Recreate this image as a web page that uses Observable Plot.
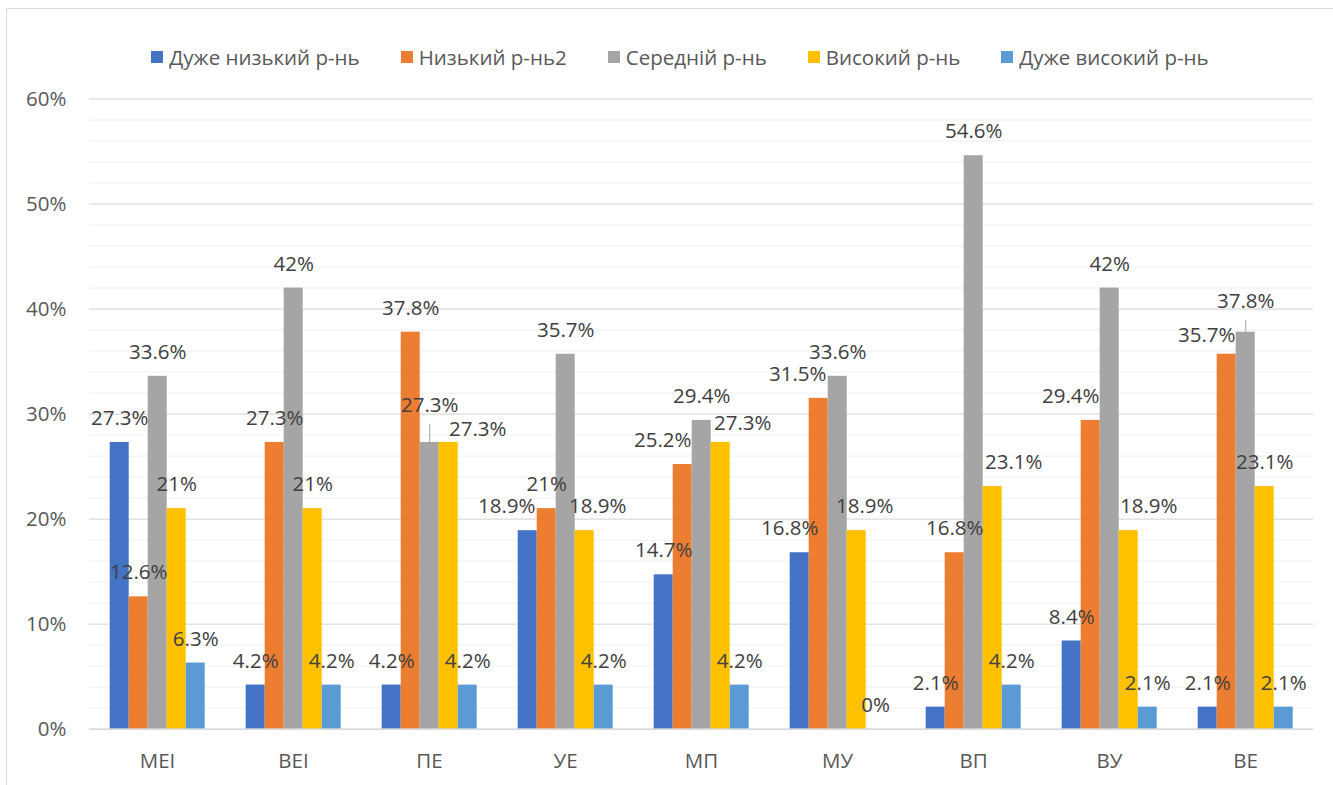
<!DOCTYPE html>
<html lang="uk">
<head>
<meta charset="utf-8">
<title>Рівні за показниками</title>
<script src="https://cdn.jsdelivr.net/npm/d3@7"></script>
<script src="https://cdn.jsdelivr.net/npm/@observablehq/plot@0.6"></script>
<style>
  html, body { margin: 0; padding: 0; background: #fff; overflow: hidden; }
  body { width: 1333px; height: 785px; position: relative; font-family: "Open Sans", sans-serif; }
  #frame {
    position: absolute; left: 6px; top: 8px; width: 1400px; height: 900px;
    border: 1px solid #d9d9d9; box-sizing: border-box; pointer-events: none;
  }
  #chart { position: absolute; left: 0; top: 0; width: 1333px; }
  #legend {
    width: 1360px; height: 80px; box-sizing: border-box; padding-top: 33px;
    display: flex; justify-content: center; gap: 41px;
    font-size: 20.5px; line-height: 28px; color: #595959;
  }
  .item { display: flex; align-items: center; white-space: nowrap; }
  .swatch { width: 12px; height: 12px; margin-right: 6px; flex: none; }
  svg { display: block; }
</style>
</head>
<body>
<div id="frame"></div>
<div id="chart">
  <div id="legend"></div>
</div>
<script>
// Groups along the horizontal axis
const categories = ["МЕІ", "ВЕІ", "ПЕ", "УЕ", "МП", "МУ", "ВП", "ВУ", "ВЕ"];
// Level series, in legend order
const series = ["Дуже низький р-нь", "Низький р-нь2", "Середній р-нь", "Високий р-нь", "Дуже високий р-нь"];
const seriesColors = ["#4472C4", "#ED7D31", "#A5A5A5", "#FFC000", "#5B9BD5"];

// Shares per group, in percent
const veryLow  = [27.3, 4.2, 4.2, 18.9, 14.7, 16.8, 2.1, 8.4, 2.1];
const low      = [12.6, 27.3, 37.8, 21, 25.2, 31.5, 16.8, 29.4, 35.7];
const medium   = [33.6, 42, 27.3, 35.7, 29.4, 33.6, 54.6, 42, 37.8];
const high     = [21, 21, 27.3, 18.9, 27.3, 18.9, 23.1, 18.9, 23.1];
const veryHigh = [6.3, 4.2, 4.2, 4.2, 4.2, 0, 4.2, 2.1, 2.1];

// Axis ticks
const yTicks = [0, 10, 20, 30, 40, 50, 60];
const yMinorTicks = d3.range(0, 61, 2);

// Value labels that are shifted aside so they don't collide (pixels),
// with an optional leader line (length in percent units)
const labelNudges = [
  { group: "ПЕ", s: 2, dx: 0,   dy: -13, leader: 1.7 },
  { group: "ПЕ", s: 3, dx: 29,  dy: 11 },
  { group: "УЕ", s: 0, dx: -21, dy: 0 },
  { group: "УЕ", s: 3, dx: 13,  dy: 0 },
  { group: "МП", s: 1, dx: -20, dy: 0 },
  { group: "МП", s: 3, dx: 22,  dy: 5 },
  { group: "МУ", s: 0, dx: -10, dy: 0 },
  { group: "МУ", s: 1, dx: -21, dy: 0 },
  { group: "МУ", s: 3, dx: 8,   dy: 0 },
  { group: "ВП", s: 3, dx: 21,  dy: 0 },
  { group: "ВУ", s: 1, dx: -20, dy: 0 },
  { group: "ВУ", s: 3, dx: 20,  dy: 0 },
  { group: "ВЕ", s: 1, dx: -20, dy: 5 },
  { group: "ВЕ", s: 2, dx: 0,   dy: -7, leader: 1.1 }
];

const seriesValues = [veryLow, low, medium, high, veryHigh];
const rows = [];
categories.forEach((group, i) => {
  series.forEach((name, s) => {
    const n = labelNudges.find(d => d.group === group && d.s === s);
    rows.push({
      group, series: name, value: seriesValues[s][i],
      dx: n ? n.dx : 0, dy: n ? n.dy : 0, leader: n && n.leader ? n.leader : 0
    });
  });
});

// Legend
const legend = document.getElementById("legend");
series.forEach((name, s) => {
  const item = document.createElement("div");
  item.className = "item";
  const sw = document.createElement("span");
  sw.className = "swatch";
  sw.style.background = seriesColors[s];
  const tx = document.createElement("span");
  tx.textContent = name;
  item.append(sw, tx);
  legend.append(item);
});

// Value labels, one text mark per offset combination
const labelMarks = d3.groups(rows, d => d.dx + "," + d.dy).map(([, arr]) =>
  Plot.text(arr, {
    fx: "group", x: "series", y: "value",
    text: d => d.value + "%",
    dx: arr[0].dx, dy: -24 + arr[0].dy,
    fill: "#404040", fontSize: 20.5
  })
);

const chart = Plot.plot({
  width: 1333,
  height: 700,
  marginTop: 18.5,
  marginBottom: 51.3,
  marginLeft: 88.3,
  marginRight: 19.7,
  style: { fontFamily: "Open Sans, sans-serif", fontSize: "20.5px", color: "#595959", background: "transparent" },
  fx: { domain: categories, padding: 0, axis: "bottom", tickSize: 0, tickPadding: 24, label: null },
  x: { domain: series, paddingInner: 0, paddingOuter: 1, axis: null },
  y: { domain: [0, 60], ticks: yTicks, tickFormat: d => d + "%", tickSize: 0, tickPadding: 23, label: null },
  color: { domain: series, range: seriesColors },
  marks: [
    Plot.gridY({ ticks: yMinorTicks, stroke: "#f0f0f0", strokeOpacity: 1 }),
    Plot.gridY({ ticks: yTicks, stroke: "#d9d9d9", strokeOpacity: 1 }),
    Plot.barY(rows, { fx: "group", x: "series", y: "value", fill: "series" }),
    Plot.ruleY([0], { stroke: "#d9d9d9", strokeWidth: 1.2 }),
    Plot.ruleX(rows.filter(d => d.leader > 0), {
      fx: "group", x: "series", y1: "value", y2: d => d.value + d.leader,
      stroke: "#a6a6a6", strokeWidth: 1
    }),
    ...labelMarks
  ]
});

document.getElementById("chart").append(chart);
</script>
</body>
</html>
